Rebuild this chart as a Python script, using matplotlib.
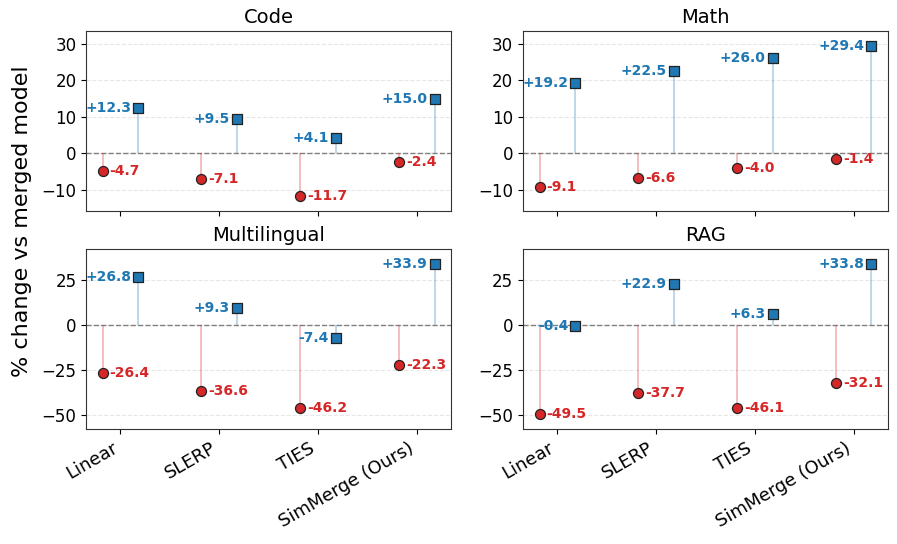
import matplotlib
matplotlib.use("Agg")
import matplotlib.pyplot as plt
import numpy as np

methods = ["Linear", "SLERP", "TIES", "SimMerge (Ours)"]
tasks = ["Code", "Math", "Multilingual", "RAG"]

# red circles (left) and blue squares (right), % change vs merged model
red_vals = {
    "Code": [-4.7, -7.1, -11.7, -2.4],
    "Math": [-9.1, -6.6, -4.0, -1.4],
    "Multilingual": [-26.4, -36.6, -46.2, -22.3],
    "RAG": [-49.5, -37.7, -46.1, -32.1],
}
blue_vals = {
    "Code": [12.3, 9.5, 4.1, 15.0],
    "Math": [19.2, 22.5, 26.0, 29.4],
    "Multilingual": [26.8, 9.3, -7.4, 33.9],
    "RAG": [-0.4, 22.9, 6.3, 33.8],
}

red = "#d62728"
blue = "#1f77b4"
off = 0.18

fig, axes = plt.subplots(2, 2, figsize=(8.97, 5.44), dpi=100, sharex=True)
fig.subplots_adjust(left=0.096, right=0.990, top=0.943, bottom=0.211,
                    hspace=0.21, wspace=0.197)

x = np.arange(len(methods))

for row in range(2):
    row_tasks = tasks[row * 2:row * 2 + 2]
    allv = []
    for t in row_tasks:
        allv += red_vals[t] + blue_vals[t]
    lo, hi = min(allv), max(allv)
    pad = 0.1 * (hi - lo)
    for col, t in enumerate(row_tasks):
        ax = axes[row, col]
        rv = red_vals[t]
        bv = blue_vals[t]
        ax.axhline(0, color="gray", linestyle="--", linewidth=1, zorder=1)
        ax.vlines(x - off, 0, rv, color=red, alpha=0.35, linewidth=1.2, zorder=2)
        ax.vlines(x + off, 0, bv, color=blue, alpha=0.35, linewidth=1.2, zorder=2)
        ax.scatter(x - off, rv, s=52, marker="o", color=red, edgecolor="#222222",
                   linewidth=0.9, zorder=3)
        ax.scatter(x + off, bv, s=48, marker="s", color=blue, edgecolor="#222222",
                   linewidth=0.9, zorder=3)
        for xi, v in zip(x, rv):
            ax.annotate(f"{v:+.1f}", (xi - off, v), xytext=(5, 0),
                        textcoords="offset points", ha="left", va="center",
                        color=red, fontsize=10, fontweight="bold")
        for xi, v in zip(x, bv):
            ax.annotate(f"{v:+.1f}", (xi + off, v), xytext=(-5, 0),
                        textcoords="offset points", ha="right", va="center",
                        color=blue, fontsize=10, fontweight="bold")
        ax.set_ylim(lo - pad, hi + pad)
        ax.set_title(t, fontsize=14)
        ax.grid(axis="y", linestyle="--", alpha=0.3)
        ax.set_axisbelow(True)
        ax.tick_params(axis="y", labelsize=12)
        for s in ax.spines.values():
            s.set_color("#333333")
        if row == 1:
            ax.set_xticks(x)
            ax.set_xticklabels(methods, rotation=30, ha="right", fontsize=13)
    if row == 0:
        axes[0, 0].set_yticks([-10, 0, 10, 20, 30])
        axes[0, 1].set_yticks([-10, 0, 10, 20, 30])

fig.text(0.024, 0.594, "% change vs merged model", rotation=90,
         va="center", ha="center", fontsize=16)

fig.savefig("out.png", dpi=100)
